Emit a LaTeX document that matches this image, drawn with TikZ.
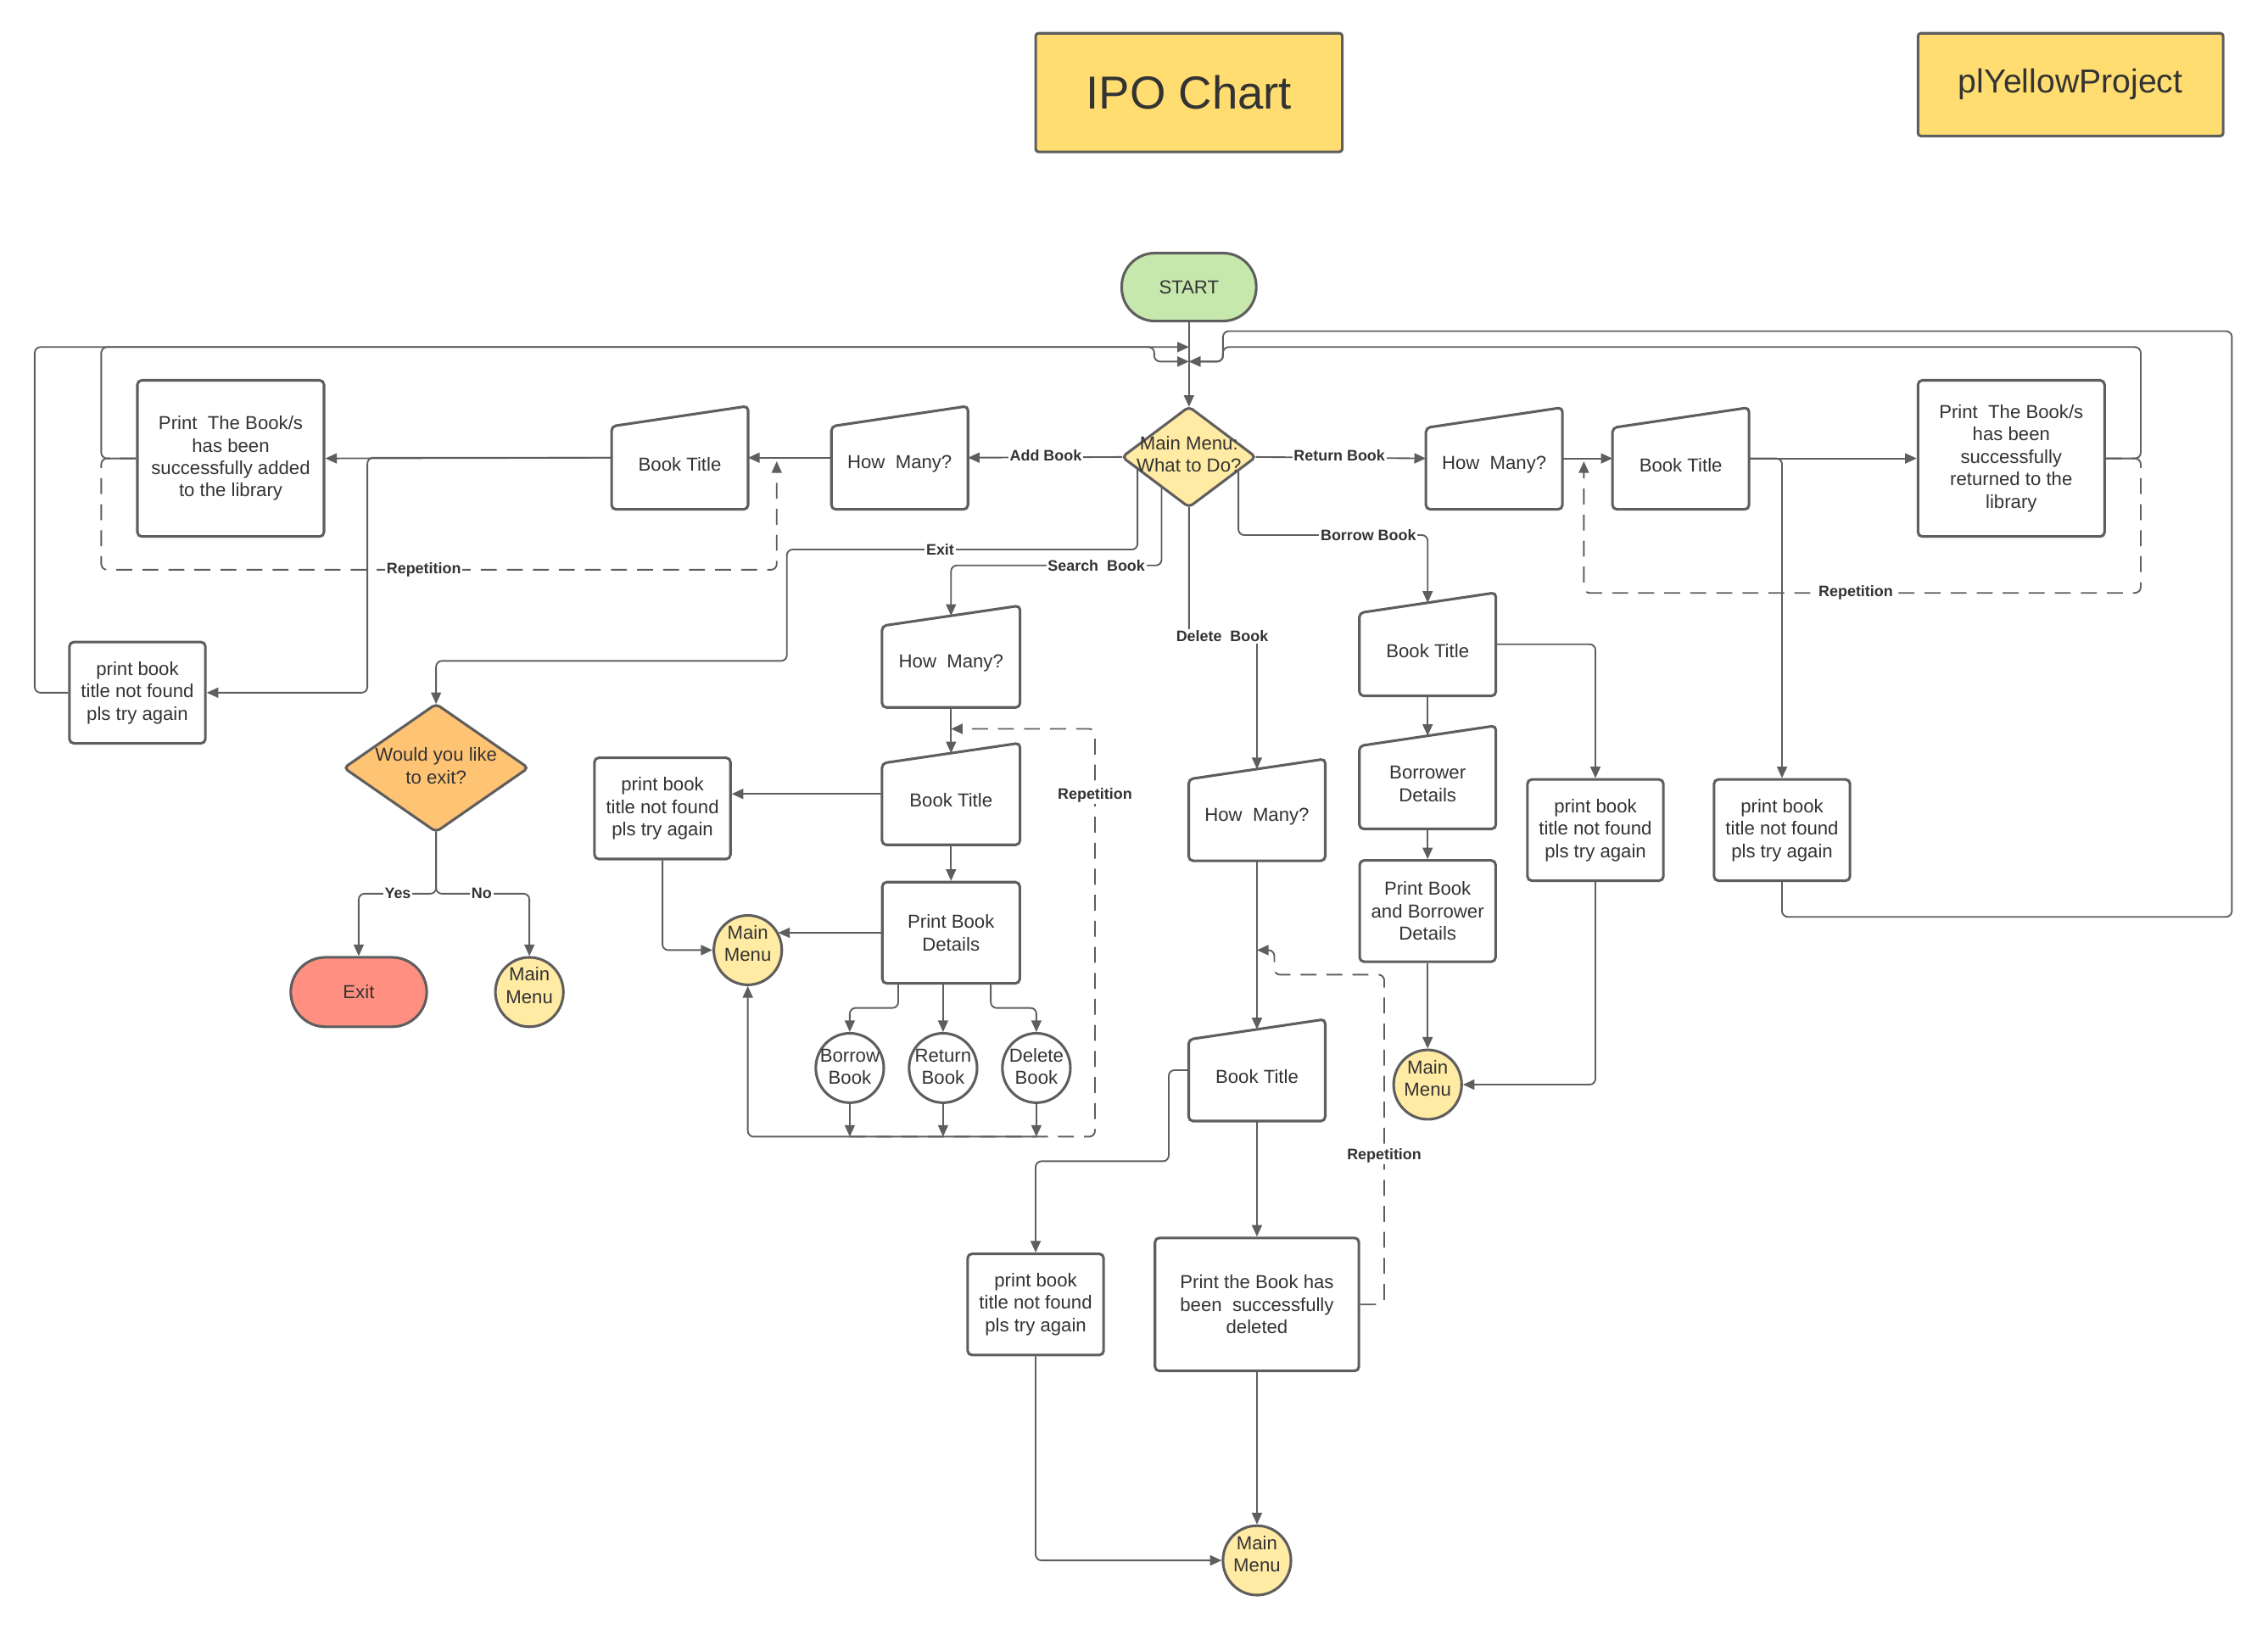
\documentclass[tikz,border=0pt]{standalone}
\usepackage{fontspec}
\setmainfont{Liberation Sans}
\usetikzlibrary{arrows.meta,shapes.geometric,backgrounds,calc}
\definecolor{lc}{HTML}{5E5E5E}
\definecolor{txt}{HTML}{333333}
\definecolor{hdr}{HTML}{FFDD71}
\definecolor{grn}{HTML}{C7E8AC}
\definecolor{mmf}{HTML}{FFEBA3}
\definecolor{orf}{HTML}{FFC374}
\definecolor{redf}{HTML}{FF8F80}
\newcommand\myfont{\fontsize{13pt}{15.5pt}\selectfont}
\newcommand\mylab{\bfseries\fontsize{10.5pt}{12pt}\selectfont}
\begin{document}
\begin{tikzpicture}[x=1pt,y=-1pt,
 base/.style={inner sep=1pt, align=center, font=\myfont, text=txt},
 rbox/.style={base, draw=lc, line width=1.8pt, rounded corners=3pt, fill=white},
 mbox/.style={base},
 mtext/.style={label={[base,yshift=-4.5pt]center:#1}},
 ctext/.style={label={[base,yshift=4.5pt]center:#1}},
 wtext/.style={label={[base,yshift=1pt]center:#1}},
 term/.style={base, draw=lc, line width=1.8pt},
 circ/.style={ellipse, draw=lc, line width=1.8pt, fill=mmf, minimum width=47pt, minimum height=48pt, inner sep=0pt},
 shp/.style={draw=lc, line width=1.8pt, rounded corners=3pt},
 conn/.style={draw=lc, line width=1.1pt, rounded corners=4pt, -{Triangle[length=8pt,width=7pt]}},
 dconn/.style={conn, dash pattern=on 11pt off 7pt},
 elab/.style={font=\mylab, text=txt, fill=white, inner sep=1pt},
 sz/.style 2 args={minimum width=#1pt, minimum height=#2pt}
]
\useasboundingbox (0,0) rectangle (1568,1126);

% header
\node[rbox, sz={212}{82}, fill=hdr, rounded corners=2pt, font=\fontsize{32pt}{38pt}\selectfont] (ipo) at (822,64) {IPO Chart};
\node[rbox, sz={211}{71}, fill=hdr, rounded corners=2pt, font=\fontsize{23pt}{28pt}\selectfont] (ply) at (1431.5,58.5) {plYellowProject};

% core
\node[term, sz={93}{47}, fill=grn, rounded corners=23pt] (start) at (822,198.5) {START};
\node[mbox, sz={92}{69}, label={[base,yshift=2pt]center:Main Menu:\\What to Do?}] (mm) at (822,316) {};

% add branch
\node[mbox, sz={94}{71}, mtext={How~~Many?}] (howA) at (622,316.5) {};
\node[mbox, sz={94}{71}, mtext={Book Title}] (titleA) at (470,316.5) {};
\node[rbox, sz={129}{108}] (printA) at (159.5,317) {Print~~The Book/s\\has been\\successfully added\\to the library};
\node[rbox, sz={94}{70}] (nfA) at (95,479) {print book\\title not found\\pls try again};

% exit branch
\node[mbox, sz={127}{88}, label={[base,yshift=1.5pt]center:Would you like\\to exit?}] (exitq) at (301.5,531) {};
\node[term, sz={94}{48}, fill=redf, rounded corners=24pt] (exit) at (248,686) {Exit};
\node[circ, ctext={Main\\Menu}] (mmNo) at (366,686) {};

% search branch
\node[mbox, sz={95}{70}, mtext={How~~Many?}] (howS) at (657.5,454) {};
\node[mbox, sz={95}{70}, mtext={Book Title}] (titleS) at (657.5,549) {};
\node[rbox, sz={94}{70}] (nfS) at (458,559) {print book\\title not found\\pls try again};
\node[rbox, sz={95}{70}] (detS) at (657.5,645) {Print Book\\Details};
\node[circ, ctext={Main\\Menu}] (mmS) at (517,657) {};
\node[circ, fill=white, wtext={Borrow\\Book}] (borC) at (587.5,738.5) {};
\node[circ, fill=white, wtext={Return\\Book}] (retC) at (652,738.5) {};
\node[circ, fill=white, wtext={Delete\\Book}] (delC) at (716.5,738.5) {};

% delete branch
\node[mbox, sz={94}{70}, mtext={How~~Many?}] (howD) at (869,560) {};
\node[mbox, sz={94}{70}, mtext={Book Title}] (titleD) at (869,740) {};
\node[rbox, sz={94}{70}] (nfD) at (716,902) {print book\\title not found\\pls try again};
\node[rbox, sz={141}{92}] (printD) at (869,902) {Print the Book has\\been~~successfully\\deleted};
\node[circ, ctext={Main\\Menu}] (mmD) at (869,1079) {};

% borrow branch
\node[mbox, sz={94}{71}, mtext={Book Title}] (titleB) at (987,445.5) {};
\node[mbox, sz={94}{71}, mtext={Borrower\\Details}] (borrowerB) at (987,537.5) {};
\node[rbox, sz={94}{70}] (printB) at (987,630) {Print Book\\and Borrower\\Details};
\node[circ, ctext={Main\\Menu}] (mmB) at (987,750) {};
\node[rbox, sz={94}{70}] (nfB) at (1103,574) {print book\\title not found\\pls try again};

% return branch
\node[mbox, sz={94}{70}, mtext={How~~Many?}] (howR) at (1033,317) {};
\node[mbox, sz={94}{70}, mtext={Book Title}] (titleR) at (1162,317) {};
\node[rbox, sz={129}{108}] (printR) at (1390.5,317) {Print~~The Book/s\\has been\\successfully\\returned to the\\library};
\node[rbox, sz={94}{70}] (nfR) at (1232,574) {print book\\title not found\\pls try again};

% helper coordinates
\coordinate (inA) at (822,240);
\coordinate (inB) at (822,250);
\coordinate (bot) at (0,786);
\coordinate (rS) at (757,504);
\coordinate (dR) at (869,657);
\coordinate (mmBo) at ($(mm.east)!0.26!(mm.south)$);
\coordinate (mmEx) at ($(mm.west)!0.23!(mm.south)$);
\coordinate (mmSe) at ($(mm.west)!0.59!(mm.south)$);

% connectors: main
\draw[conn] (start.south) -- (mm.north);
\draw[conn] (nfA.west) -| (24,240) -- (inA);
\draw[conn] (printA.west) -| (70,240) -- (798,240) -- (798,250) -- (inB);
\draw[conn] (nfR.south) |- (1543,634) |- (845.5,229) |- (inB);
\draw[conn] (printR.east) -| (1480,240) -| (845.5,250) -- (inB);

% add
\draw[conn] (mm.west) -- (howA.east);
\draw[conn] (howA.west) -- (titleA.east);
\draw[conn] (titleA.west) -- (printA.east);
\draw[conn] (titleA.west) -- (254,316.5) |- (nfA.east);
\draw[dconn] (printA.west) -| (70,394) -| (537,319);

% return
\draw[conn] (mm.east) -- (howR.west);
\draw[conn] (howR.east) -- (titleR.west);
\draw[conn] (titleR.east) -- (printR.west);
\draw[conn] (titleR.east) -| (nfR.north);
\draw[dconn] (printR.east) -| (1480,410) -| (1095,319);

% borrow / exit / search / delete from menu
\draw[conn] (mmBo) |- (987,370) -- ([yshift=-7pt]titleB.north);
\draw[conn] (mmEx) |- (544,380) |- (301.5,457) -- (exitq.north);
\draw[conn] (mmSe) |- (700,391) -| ([yshift=-7pt]howS.north);
\draw[conn] (mm.south) |- (845,440) -| ([yshift=-7pt]howD.north);

% exit question
\draw[conn] (exitq.south) |- (275,618) -| (exit.north);
\draw[conn] (exitq.south) |- (333,618) -| (mmNo.north);

% search chain
\draw[conn] (howS.south) -- ([yshift=-7pt]titleS.north);
\draw[conn] (titleS.west) -- (titleS.west -| nfS.east);
\draw[conn] (titleS.south) -- (detS.north);
\draw[conn] (detS.west) -- (detS.west -| mmS.31);
\draw[conn] (nfS.south) |- (mmS.west);
\draw[conn] ([xshift=-36.5pt]detS.south) |- (600,697) -| (borC.north);
\draw[conn] (detS.south -| retC.north) -- (retC.north);
\draw[conn] ([xshift=27.5pt]detS.south) |- (700,697) -| (delC.north);
\draw[conn] (borC.south) -- (borC.south |- bot);
\draw[conn] (retC.south) -- (retC.south |- bot);
\draw[conn] (delC.south) -- (delC.south |- bot);
\draw[conn] (delC.south |- bot) -| (mmS.south);
\draw[dconn] (borC.south |- bot) -| (rS) -- (rS -| howS.south);

% delete chain
\draw[conn] (howD.south) -- ([yshift=-7pt]titleD.north);
\draw[dconn] (printD.east) -| (957,674) -| (881,657) -- (dR);
\draw[conn] (titleD.west) -| (808,803) -| (nfD.north);
\draw[conn] (titleD.south) -- (printD.north);
\draw[conn] (printD.south) -- (mmD.north);
\draw[conn] (nfD.south) |- (mmD.west);

% borrow chain
\draw[conn] (titleB.south) -- ([yshift=-7pt]borrowerB.north);
\draw[conn] (titleB.east) -| (nfB.north);
\draw[conn] (borrowerB.south) -- (printB.north);
\draw[conn] (printB.south) -- (mmB.north);
\draw[conn] (nfB.south) |- (mmB.east);

% labels
\node[elab] (lAdd) at (723,315) {Add Book};
\node[elab] (lRet) at (926,315) {Return Book};
\node[elab] (lBor) at (946,370) {Borrow Book};
\node[elab] (lExit) at (650,380) {Exit};
\node[elab] (lSea) at (758,391) {Search~~Book};
\node[elab] (lDel) at (845,440) {Delete~~Book};
\node[elab] (lYes) at (275,618) {Yes};
\node[elab] (lNo) at (333,618) {No};
\node[elab] (rep1) at (293,394) {Repetition};
\node[elab] (rep2) at (1283,410) {Repetition};
\node[elab] (rep3) at (757,550) {Repetition};
\node[elab] (rep4) at (957,799) {Repetition};

% shapes on background
\begin{scope}[on background layer]
\fill[white] (0,0) rectangle (1568,1126);
\foreach \n in {howA,titleA,howS,titleS,howD,titleD,titleB,borrowerB,howR,titleR}
  \draw[shp, fill=white] ([yshift=-14pt]\n.north west) -- (\n.north east) -- (\n.south east) -- (\n.south west) -- cycle;
\draw[shp, fill=mmf] (mm.north) -- (mm.east) -- (mm.south) -- (mm.west) -- cycle;
\draw[shp, fill=orf] (exitq.north) -- (exitq.east) -- (exitq.south) -- (exitq.west) -- cycle;
\end{scope}
\end{tikzpicture}
\end{document}
